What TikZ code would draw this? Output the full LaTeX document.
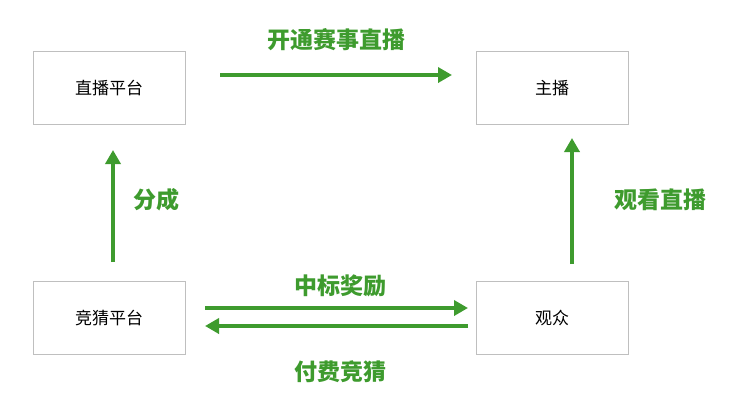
\documentclass[tikz,border=0pt]{standalone}
\usepackage{fontspec}
\setmainfont{Noto Sans CJK SC}
\usetikzlibrary{arrows.meta}
\definecolor{g}{HTML}{3E9B2E}
\begin{document}
\begin{tikzpicture}[x=1pt,y=-1pt,
 box/.style={draw=black!25,line width=1pt,minimum width=152pt,minimum height=73pt,inner sep=0pt,font=\fontsize{17}{19}\selectfont},
 arr/.style={draw=g,line width=3.5pt,-{Triangle[length=14pt,width=15pt]}},
 lab/.style={text=g,font=\bfseries\fontsize{23}{26}\selectfont}]
\useasboundingbox (0,0) rectangle (729,400);
\node[box] (zb) at (109,88) {直播平台};
\node[box] (zh) at (552,88) {主播};
\node[box] (jc) at (109,318) {竞猜平台};
\node[box] (gz) at (552,318) {观众};
\coordinate (a1) at (220,75); \coordinate (a2) at (452,75);
\draw[arr] (a1) -- (a2);
\node[lab] (l1) at (336,40) {开通赛事直播};
\coordinate (b1) at (113,262); \coordinate (b2) at (113,150);
\draw[arr] (b1) -- (b2);
\node[lab] (l2) at (156,200) {分成};
\coordinate (c1) at (572,264); \coordinate (c2) at (572,138);
\draw[arr] (c1) -- (c2);
\node[lab] (l3) at (660,200) {观看直播};
\coordinate (d1) at (205,308); \coordinate (d2) at (468,308);
\draw[arr] (d1) -- (d2);
\node[lab] (l4) at (340,286) {中标奖励};
\coordinate (e1) at (468,326); \coordinate (e2) at (205,326);
\draw[arr] (e1) -- (e2);
\node[lab] (l5) at (340,372) {付费竞猜};
\end{tikzpicture}
\end{document}
